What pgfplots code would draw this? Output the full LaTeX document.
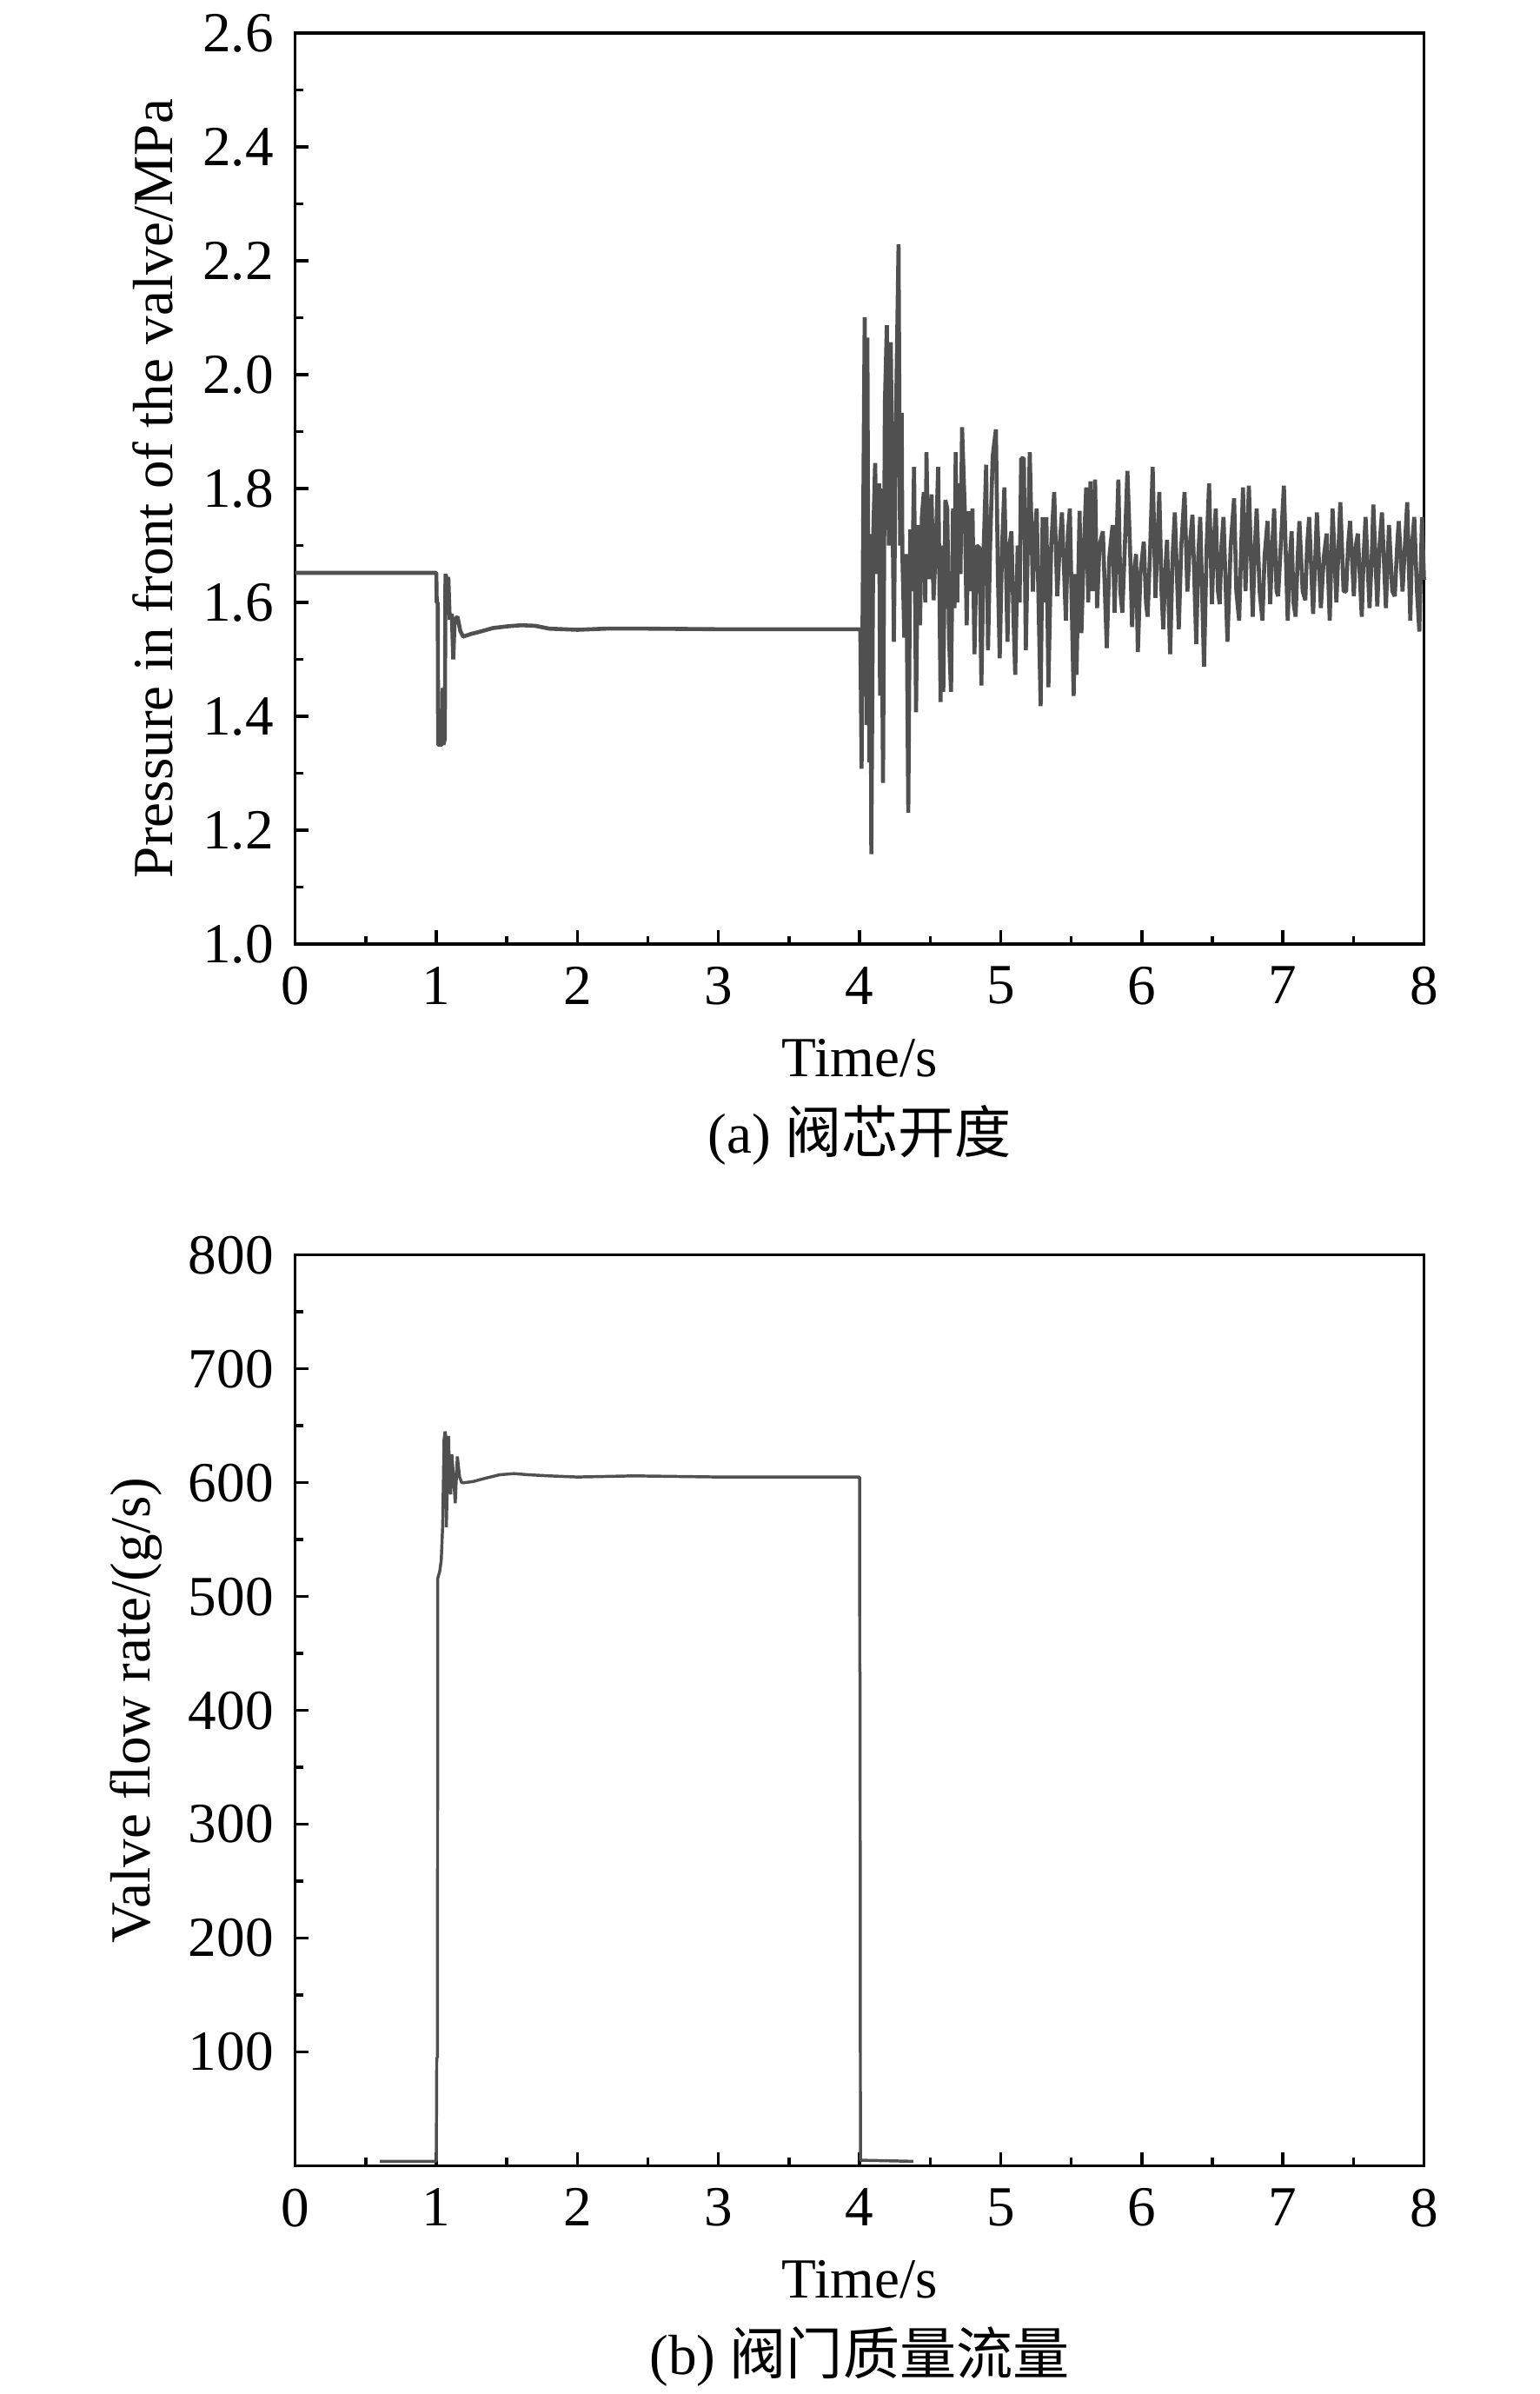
\documentclass[border=0pt]{standalone}
\usepackage{fontspec}
\setmainfont{Liberation Serif}
\newfontfamily\cjk{Noto Sans CJK SC}
\usepackage{pgfplots}
\pgfplotsset{compat=1.18}
\definecolor{linegray}{HTML}{505050}
\newcommand{\fs}{\fontsize{11.3}{13.5}\selectfont}
\pgfplotsset{
 myaxis/.style={
  scale only axis, width=225.2pt, height=181.7pt,
  xmin=0, xmax=8, xtick={0,...,8}, minor x tick num=1, minor y tick num=1,
  axis line style={line width=0.6pt},
  every tick/.style={black, line width=0.6pt},
  major tick length=2.7pt, minor tick length=1.6pt,
  tick align=inside, xtick pos=lower, ytick pos=left,
  font=\fs,
  tick label style={font=\fs},
  label style={font=\fs},
  xticklabel style={yshift=-1pt},
  yticklabel style={xshift=-0.8pt},
  /pgf/number format/assume math mode=true,
  xlabel={Time/s},
  xlabel style={at={(axis description cs:0.5,-0.145)}, anchor=base},
  ylabel style={anchor=center},
  clip=false,
 }
}
\begin{document}
\begin{tikzpicture}
\path[use as bounding box] (-58.9pt,-289.2pt) rectangle (248.2pt,188.3pt);
\begin{axis}[myaxis, at={(0pt,0pt)}, anchor=south west,
  ymin=1.0, ymax=2.6, ytick={1.0,1.2,...,2.61},
  yticklabel style={/pgf/number format/.cd, fixed, fixed zerofill, precision=1},
  ylabel={Pressure in front of the valve/MPa},
  ylabel style={at={(axis description cs:-0.1258,0.5)}},
]
\addplot[linegray, line width=0.8pt, line join=bevel, mark=none] coordinates {
(0,1.652) (1.0,1.652) (1.003,1.60) (1.01,1.60) (1.013,1.35) (1.04,1.35) (1.045,1.45) (1.05,1.35) (1.06,1.36)
(1.065,1.65) (1.075,1.64) (1.08,1.60) (1.085,1.645) (1.095,1.57) (1.11,1.58) (1.12,1.50) (1.13,1.57)
(1.15,1.575) (1.17,1.55) (1.19,1.54) (1.25,1.545) (1.3,1.548) (1.4,1.555) (1.5,1.558) (1.6,1.560)
(1.7,1.559) (1.8,1.554) (2.0,1.552) (2.2,1.554) (2.5,1.554) (3.0,1.553) (4.0,1.553) (4.005,1.553)
(4.014,1.308) (4.028,1.831) (4.036,2.101) (4.043,1.700) (4.050,1.385) (4.055,2.065) (4.062,1.600)
(4.069,1.319) (4.076,1.720) (4.083,1.158) (4.097,1.721) (4.110,1.845) (4.124,1.650) (4.138,1.809)
(4.145,1.436) (4.152,1.800) (4.166,1.283) (4.179,1.948) (4.193,2.087) (4.207,1.700) (4.221,2.057)
(4.243,1.531) (4.257,1.911) (4.276,2.229) (4.287,1.700) (4.298,1.933) (4.303,1.685) (4.317,1.538)
(4.331,1.685) (4.345,1.231) (4.359,1.728) (4.372,1.620) (4.386,1.838) (4.400,1.407) (4.414,1.736)
(4.428,1.560) (4.441,1.750) (4.455,1.794) (4.465,1.600) (4.474,1.864) (4.485,1.700) (4.497,1.641)
(4.510,1.790) (4.524,1.604) (4.540,1.700) (4.557,1.838) (4.574,1.425) (4.584,1.700) (4.593,1.443)
(4.608,1.780) (4.621,1.765) (4.634,1.535) (4.648,1.443) (4.662,1.765) (4.672,1.590) (4.681,1.864)
(4.692,1.600) (4.703,1.809) (4.715,1.650) (4.726,1.908) (4.745,1.765) (4.759,1.560) (4.773,1.760)
(4.786,1.620) (4.800,1.765) (4.814,1.509) (4.830,1.700) (4.850,1.696) (4.863,1.454) (4.880,1.700)
(4.897,1.842) (4.910,1.516) (4.925,1.700) (4.943,1.856) (4.966,1.904) (4.980,1.650) (4.993,1.502)
(5.010,1.700) (5.026,1.802) (5.048,1.531) (5.062,1.700) (5.076,1.725) (5.090,1.580) (5.103,1.473)
(5.120,1.700) (5.134,1.600) (5.145,1.853) (5.164,1.853) (5.178,1.516) (5.192,1.700) (5.206,1.864)
(5.228,1.619) (5.241,1.720) (5.255,1.765) (5.270,1.580) (5.283,1.418) (5.297,1.750) (5.310,1.600)
(5.324,1.750) (5.338,1.451) (5.358,1.700) (5.379,1.794) (5.401,1.611) (5.418,1.700) (5.434,1.758)
(5.462,1.568) (5.476,1.720) (5.490,1.765) (5.503,1.600) (5.517,1.436) (5.530,1.650) (5.537,1.473)
(5.559,1.761) (5.572,1.546) (5.590,1.700) (5.606,1.802) (5.620,1.600) (5.636,1.813) (5.650,1.620)
(5.669,1.816) (5.683,1.590) (5.700,1.700) (5.724,1.725) (5.752,1.520) (5.770,1.680) (5.793,1.736)
(5.807,1.582) (5.820,1.700) (5.834,1.816) (5.848,1.620) (5.862,1.582) (5.880,1.700) (5.898,1.831)
(5.917,1.692) (5.931,1.557) (5.945,1.650) (5.959,1.685) (5.972,1.513) (5.990,1.650) (6.014,1.707)
(6.030,1.600) (6.041,1.575) (6.060,1.700) (6.077,1.838) (6.097,1.608) (6.110,1.700) (6.124,1.794)
(6.140,1.620) (6.152,1.553) (6.165,1.650) (6.179,1.710) (6.190,1.600) (6.201,1.509) (6.218,1.680)
(6.234,1.758) (6.262,1.553) (6.280,1.700) (6.303,1.794) (6.323,1.619) (6.340,1.700) (6.359,1.754)
(6.386,1.527) (6.400,1.680) (6.414,1.750) (6.441,1.487) (6.460,1.700) (6.477,1.809) (6.497,1.597)
(6.510,1.700) (6.524,1.765) (6.540,1.620) (6.552,1.597) (6.565,1.700) (6.579,1.750) (6.607,1.531)
(6.630,1.700) (6.654,1.783) (6.670,1.620) (6.690,1.568) (6.705,1.700) (6.717,1.802) (6.735,1.620)
(6.759,1.805) (6.786,1.575) (6.800,1.690) (6.814,1.765) (6.835,1.620) (6.855,1.568) (6.870,1.680)
(6.891,1.743) (6.910,1.597) (6.925,1.700) (6.938,1.765) (6.955,1.620) (6.966,1.611) (6.985,1.700)
(7.007,1.805) (7.034,1.568) (7.050,1.680) (7.062,1.725) (7.075,1.600) (7.090,1.575) (7.105,1.680)
(7.117,1.743) (7.140,1.620) (7.159,1.604) (7.172,1.700) (7.186,1.750) (7.214,1.580) (7.230,1.680)
(7.241,1.758) (7.269,1.590) (7.290,1.680) (7.310,1.721) (7.332,1.568) (7.352,1.765) (7.379,1.600)
(7.395,1.700) (7.407,1.776) (7.430,1.620) (7.448,1.619) (7.462,1.700) (7.476,1.743) (7.503,1.611)
(7.517,1.700) (7.531,1.721) (7.559,1.575) (7.572,1.680) (7.586,1.750) (7.614,1.590) (7.630,1.680)
(7.641,1.772) (7.669,1.593) (7.685,1.700) (7.702,1.758) (7.730,1.590) (7.752,1.736) (7.775,1.620)
(7.793,1.611) (7.810,1.700) (7.821,1.743) (7.848,1.619) (7.865,1.700) (7.881,1.776) (7.903,1.568)
(7.915,1.700) (7.931,1.750) (7.950,1.620) (7.967,1.549) (7.986,1.750) (8.000,1.640)
};
\node[font=\fs, anchor=base] at (axis description cs:0.5,-0.229) {(a) {\cjk 阀芯开度}};
\end{axis}
\begin{axis}[myaxis, at={(0pt,-243.7pt)}, anchor=south west,
  ymin=0, ymax=800, ytick={100,200,...,800},
  ylabel={Valve flow rate/(g/s)},
  ylabel style={at={(axis description cs:-0.141,0.5)}},
]
\addplot[linegray, line width=0.6pt, line join=bevel, mark=none] coordinates {
(0.60,4) (0.995,4) (1.0,5) (1.003,95) (1.008,95) (1.01,516) (1.024,522) (1.035,532) (1.045,562)
(1.05,600) (1.055,638) (1.062,645) (1.068,640) (1.071,561) (1.078,600) (1.087,641) (1.095,592)
(1.102,590) (1.11,625) (1.125,600) (1.134,582) (1.149,623) (1.165,605) (1.18,600) (1.196,600)
(1.26,601) (1.35,604) (1.45,607) (1.55,608) (1.65,607) (1.8,606) (2.0,605) (2.4,606) (3.0,605)
(4.0,605) (4.001,434) (4.003,434) (4.006,5) (4.38,4)
};
\node[font=\fs, anchor=base] at (axis description cs:0.5,-0.229) {(b) {\cjk 阀门质量流量}};
\end{axis}
\end{tikzpicture}
\end{document}
